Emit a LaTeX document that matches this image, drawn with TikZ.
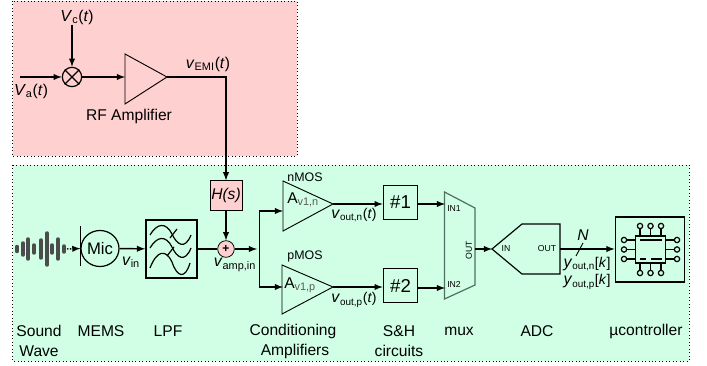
\documentclass[tikz,border=0pt]{standalone}
\usepackage{fontspec}
\setmainfont{Liberation Sans}
\usetikzlibrary{shapes.geometric}
\definecolor{rfpink}{HTML}{FFD0D0}
\definecolor{boardgreen}{HTML}{D0FFE6}
\definecolor{muxgrey}{HTML}{4F6F60}
\newcommand{\sig}[2]{\textit{\large #1}\textsubscript{#2}}
\tikzset{
  wire/.style={line width=1.1pt,-latex},
  plainwire/.style={line width=1.1pt},
  lbl/.style={font=\fontsize{11.7}{13}\selectfont,inner sep=0pt},
  siglbl/.style={font=\fontsize{10.6}{12}\selectfont,inner sep=0pt},
  tinylbl/.style={font=\fontsize{6.5}{7}\selectfont,inner sep=0pt},
  zone/.style={draw=black,dotted,line width=0.6pt},
  chippin/.style={circle,draw,line width=0.9pt,inner sep=0pt,minimum size=4pt},
  wavebar/.style={line width=2.6pt,line cap=round,black!70}
}
\begin{document}
\begin{tikzpicture}[x=0.75pt,y=-0.75pt]
\useasboundingbox (0,0) rectangle (707,366);
%zones
\draw[zone,fill=rfpink] (12.5,1) rectangle (297,156);
\draw[zone,fill=boardgreen] (12.5,165) rectangle (689,361);
%partie RF
\node[lbl] (vc) at (77,17) {\sig{V}{c}(\textit{t})};
\node[lbl] (va) at (31,91) {\sig{V}{a}(\textit{t})};
\coordinate (vastart) at (20,77);
\node[circle,draw,line width=0.9pt,minimum size=14.5pt,inner sep=0pt] (mixer) at (72,77) {};
\draw[line width=0.9pt] (mixer.north west) -- (mixer.south east);
\draw[line width=0.9pt] (mixer.north east) -- (mixer.south west);
\coordinate (rfin) at (125,77);
\coordinate (rfout) at (167,77);
\draw[line width=0.7pt] (125,54) -- (rfout) -- (125,104) -- cycle;
\node[lbl] (rflabel) at (129,116) {RF Amplifier};
\node[lbl] (vemi) at (208,64) {\sig{v}{EMI}(\textit{t})};
\draw[wire] (vastart) -- (mixer);
\draw[wire] (vc.south -| mixer) -- (mixer);
\draw[wire] (mixer) -- (rfin);
%H(s) et sommateur
\node[draw,line width=0.7pt,fill=rfpink,minimum width=24pt,minimum height=22pt,inner sep=0pt,font=\fontsize{11.7}{13}\selectfont\itshape] (hs) at (226,195.5) {H(s)};
\node[circle,draw,line width=0.6pt,fill=rfpink,minimum size=12.5pt,inner sep=0pt,font=\bfseries\small] (sum) at (226,249) {+};
\draw[wire] (rfout) -| (hs.north);
\draw[wire] (hs) -- (sum);
%onde sonore
\foreach \px/\py in {17/2.5,23/6,28/10,34/4,41/9,47/16,52/4,58/10,64/3}
  \draw[wavebar] (\px,249-\py) -- (\px,249+\py);
\coordinate (wave) at (67,249);
\node[draw,ellipse,line width=0.9pt,minimum width=28.5pt,minimum height=27pt,inner sep=0pt,font=\fontsize{12.5}{14}\selectfont] (mic) at (100,248.5) {Mic};
\coordinate (memstop) at (80.5,226);
\coordinate (membot) at (80.5,266);
\draw[line width=0.9pt] (memstop) -- (membot);
\draw[line width=1.1pt,densely dotted,-latex] (wave) -- (mic.west);
\node[lbl] (vin) at (131,262) {\sig{v}{in}};
%filtre
\node[draw,line width=1.1pt,minimum width=38.5pt,minimum height=43.5pt,inner sep=0pt] (lpf) at (171.5,249) {};
\draw[line width=0.9pt] (150,235) .. controls (157,223) and (166,222) .. (172,234) .. controls (177,245) and (185,250) .. (191,235);
\draw[line width=0.9pt] (150,248) .. controls (157,236) and (166,235) .. (172,247) .. controls (177,258) and (185,263) .. (191,248);
\draw[line width=0.9pt] (150,268) .. controls (157,250) and (166,249) .. (172,262) .. controls (177,277) and (185,280) .. (190,263);
\draw[line width=0.9pt] (170,238) -- (177,229);
\draw[line width=0.9pt] (167,256) -- (174,247);
\draw[wire] (mic) -- (lpf);
\draw[plainwire] (lpf) -- (sum);
\node[lbl] (vamp) at (235,265) {\sig{v}{amp,in}};
%amplis
\coordinate (branch) at (257,249);
\coordinate (ninput) at (283,211);
\coordinate (pinput) at (283,287);
\coordinate (nout) at (333,204);
\coordinate (pout) at (333,287);
\draw[wire] (sum) -- (branch);
\draw[wire] (259.5,249) |- (ninput);
\draw[wire] (259.5,249) |- (pinput);
\draw[line width=0.7pt] (283,181) -- (nout) -- (283,231) -- cycle;
\draw[line width=0.7pt] (282,265) -- (pout) -- (282,314) -- cycle;
\node[lbl,font=\fontsize{9.3}{11}\selectfont] (nmos) at (305,177) {nMOS};
\node[lbl,font=\fontsize{9.3}{11}\selectfont] (pmos) at (305,256) {pMOS};
\node[lbl,anchor=west] (avn) at (287,200) {A\textcolor{black!65}{\textsubscript{v1,n}}};
\node[lbl,anchor=west] (avp) at (284,285) {A\textcolor{black!65}{\textsubscript{v1,p}}};
\node[siglbl] (voutn) at (354,215) {\sig{v}{out,n}(\textit{t})};
\node[siglbl] (voutp) at (354,300) {\sig{v}{out,p}(\textit{t})};
%S&H
\node[draw,line width=0.7pt,minimum width=26pt,minimum height=25.5pt,inner sep=0pt,font=\fontsize{14}{16}\selectfont] (sh1) at (400.5,202) {\#1};
\node[draw,line width=0.7pt,minimum width=26pt,minimum height=25.5pt,inner sep=0pt,font=\fontsize{14}{16}\selectfont] (sh2) at (400.5,285.5) {\#2};
\draw[wire] (nout) -- (sh1.west |- nout);
\draw[wire] (pout) -- (sh2.west |- pout);
%mux
\coordinate (muxin1) at (445,204);
\coordinate (muxin2) at (445,288);
\coordinate (muxout) at (475,249);
\draw[line width=0.9pt,draw=muxgrey] (444.5,192) -- (475,208) -- (475,285) -- (444.5,299) -- cycle;
\node[tinylbl] (in1) at (454,209) {IN1};
\node[tinylbl] (in2) at (454,284) {IN2};
\node[tinylbl,rotate=90] (muxoutlbl) at (469,250) {OUT};
\draw[wire] (sh1.east |- muxin1) -- (muxin1);
\draw[wire] (sh2.east |- muxin2) -- (muxin2);
%ADC
\coordinate (adcin) at (492,249);
\coordinate (adcout) at (560,249);
\draw[line width=0.9pt] (adcin) -- (522,224) -- (560,224) -- (560,274) -- (522,274) -- cycle;
\node[tinylbl] (adcinlbl) at (506,249) {IN};
\node[tinylbl] (adcoutlbl) at (547,249) {OUT};
\draw[wire] (muxout) -- (adcin);
%microcontroleur
\node[draw,line width=1.1pt,minimum width=52pt,minimum height=48.5pt,inner sep=0pt] (uc) at (650,249.5) {};
\node[draw,line width=1.1pt,minimum width=22.5pt,minimum height=20pt,inner sep=0pt] (chip) at (650.5,249.5) {};
\foreach \i/\px in {a/640,b/650.5,c/661} {
  \node[chippin] (top\i) at (\px,226) {};
  \node[chippin] (bot\i) at (\px,273) {};
  \draw[line width=0.9pt] (top\i) -- (\px,236);
  \draw[line width=0.9pt] (bot\i) -- (\px,263);
}
\foreach \i/\py in {a/240,b/249.5,c/259} {
  \node[chippin] (lft\i) at (624,\py) {};
  \node[chippin] (rgt\i) at (677,\py) {};
  \draw[line width=0.9pt] (lft\i) -- (635,\py);
  \draw[line width=0.9pt] (rgt\i) -- (666,\py);
}
\draw[line width=0.9pt] (640,240) -- (662,240);
\draw[line width=0.9pt] (640,259) -- (646,259);
\draw[line width=0.9pt] (651,259) -- (662,259);
\draw[wire] (adcout) -- (uc.west |- adcout);
\draw[line width=0.7pt] (576,256) -- (583,243);
\node[lbl,font=\fontsize{11.7}{13}\selectfont\itshape] (nbits) at (583,235) {N};
\node[siglbl] (youtn) at (587,264) {\sig{y}{out,n}[\textit{k}]};
\node[siglbl] (youtp) at (587,282) {\sig{y}{out,p}[\textit{k}]};
%legendes
\node[lbl] (sound) at (39,331) {Sound};
\node[lbl] (soundb) at (39,351) {Wave};
\node[lbl] (mems) at (101,331) {MEMS};
\node[lbl] (lpflbl) at (168,331) {LPF};
\node[lbl] (cond) at (293,331) {Conditioning};
\node[lbl] (condb) at (295,351) {Amplifiers};
\node[lbl] (shlbl) at (399,331) {S\&H};
\node[lbl] (shlblb) at (399,351) {circuits};
\node[lbl] (muxlbl) at (459,331) {mux};
\node[lbl] (adclbl) at (537,331) {ADC};
\node[lbl] (uclbl) at (646,331) {µcontroller};
\end{tikzpicture}
\end{document}
